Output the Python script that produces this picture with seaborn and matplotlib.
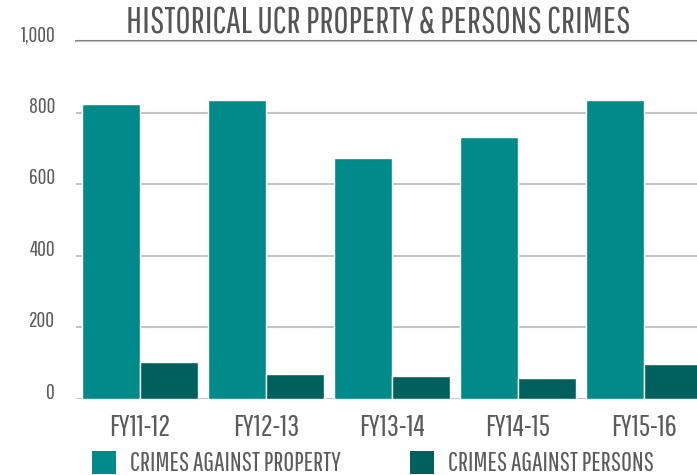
import pandas as pd
import seaborn as sns
import matplotlib.pyplot as plt
from matplotlib.patches import Patch

years = ["FY11-12", "FY12-13", "FY13-14", "FY14-15", "FY15-16"]
property_crimes = [824, 835, 673, 732, 835]
persons_crimes = [103, 69, 64, 58, 97]
series_names = ["CRIMES AGAINST PROPERTY", "CRIMES AGAINST PERSONS"]
y_ticks = [0, 200, 400, 600, 800, 1000]

colors = ["#008a89", "#00605e"]
text_color = "#5b5b5b"

df = pd.DataFrame({
    "year": years * 2,
    "crimes": property_crimes + persons_crimes,
    "type": [series_names[0]] * len(years) + [series_names[1]] * len(years),
})

sns.set_theme(style="white")
plt.rcParams['font.family'] = ['Pathway Gothic One', 'DejaVu Sans']

fig = plt.figure(figsize=(6.97, 4.75), dpi=100)
ax = fig.add_axes([76 / 697, 1 - 398.7 / 475, 1 - 76 / 697, (398.7 - 41.2) / 475])

sns.barplot(data=df, x="year", y="crimes", hue="type", palette=colors,
            width=0.92, gap=0, saturation=1, ax=ax, legend=False)

ax.set_xlim(-0.508, 4.421)
ax.set_ylim(0, 1000)
ax.set_xlabel("")
ax.set_ylabel("")

ax.set_yticks(y_ticks)
ax.set_yticklabels([f"{v:,}" for v in y_ticks])
for lab in ax.get_yticklabels():
    lab.set_va("baseline")
ax.tick_params(axis="y", length=0, pad=15, labelsize=15.5, labelcolor=text_color)
ax.tick_params(axis="x", length=0, pad=10, labelsize=21.5, labelcolor=text_color)

sns.despine(ax=ax, left=True, bottom=True, top=True, right=True)
ax.yaxis.grid(True, color="#c4c4c4", linewidth=1.5)
ax.set_axisbelow(True)
ax.axhline(1000, color="#808080", linewidth=1.5, clip_on=False, zorder=0)

fig.text(378 / 697, 1 - 33 / 475, "HISTORICAL UCR PROPERTY & PERSONS CRIMES",
         ha="center", va="baseline", fontsize=26.5, color="#555555")

handles = [Patch(facecolor=c, edgecolor="none") for c in colors]
ax.legend(handles, series_names, loc="upper left",
          bbox_to_anchor=(92 / 697, 1 - 451 / 475), bbox_transform=fig.transFigure,
          ncol=2, frameon=False, fontsize=19, labelcolor=text_color,
          handlelength=0.91, handleheight=0.95, handletextpad=0.53,
          columnspacing=2.62, borderpad=0, borderaxespad=0)

fig.savefig("out.png", dpi=100)
